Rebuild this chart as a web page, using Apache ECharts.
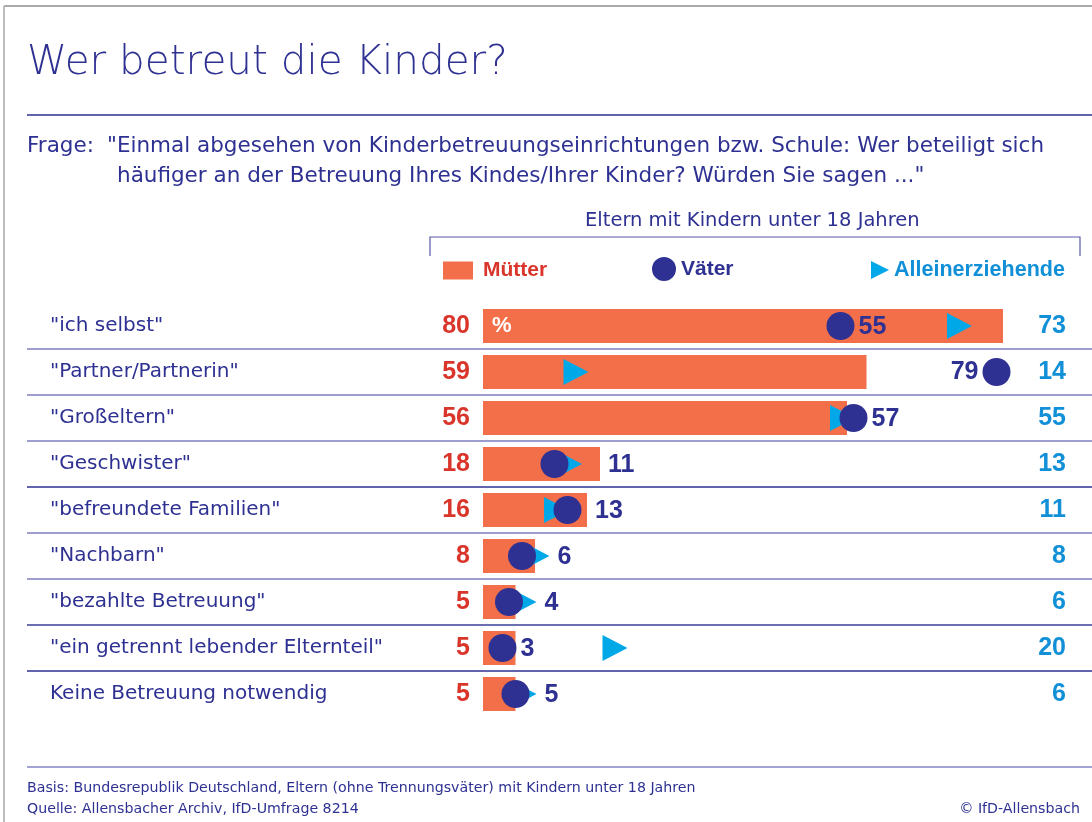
<!DOCTYPE html>
<html>
<head>
<meta charset="utf-8">
<script src="https://cdn.jsdelivr.net/npm/echarts@6/dist/echarts.min.js"></script>
<style>
  html, body { margin: 0; padding: 0; background: #fff; }
  #chart { width: 1092px; height: 822px; }
</style>
</head>
<body>
<div id="chart"></div>
<script>
// Daten
const categories = [
    '"ich selbst"',
    '"Partner/Partnerin"',
    '"Großeltern"',
    '"Geschwister"',
    '"befreundete Familien"',
    '"Nachbarn"',
    '"bezahlte Betreuung"',
    '"ein getrennt lebender Elternteil"',
    'Keine Betreuung notwendig'
]
const muetter = [80, 59, 56, 18, 16, 8, 5, 5, 5]
const vaeter = [55, 79, 57, 11, 13, 6, 4, 3, 5]
const allein = [73, 14, 55, 13, 11, 8, 6, 20, 6]

const NAVY = '#2e3192'
const ORANGE = '#f26f4a'
const RED = '#d9352a'
const CYAN = '#00a8e8'
const BLUE = '#1190d8'
const TRI = 'path://M0,0L10,5L0,10Z'
const TEXT_FONT = '"DejaVu Sans", sans-serif'
const NUM_FONT = '"Liberation Sans Narrow", "Liberation Sans", sans-serif'

// 0 % liegt bei x=483, 6.5 px pro Prozentpunkt
const GRID_LEFT = 27
const ZERO_X = 483
const PX = 6.5
const DOT = 28      // Kreisdurchmesser
const TRI_W = 25

// Väter-Zahl rechts neben das äußerste Element der Gruppe schieben (wie im Original)
function vaeterShift(i) {
    const v = vaeter[i] * PX
    const dotRight = v + DOT / 2
    let edge = dotRight
    const barEnd = muetter[i] * PX
    if (barEnd > edge && barEnd - dotRight < 35) edge = barEnd
    const triTip = allein[i] * PX + TRI_W / 2 + 2
    if (triTip > edge && triTip - dotRight < 35) edge = triTip
    const gap = edge > dotRight ? 8 : 4
    return edge - dotRight + gap - 4
}

const chart = echarts.init(document.getElementById('chart'))
chart.setOption({
    animation: false,
    textStyle: { fontFamily: TEXT_FONT },
    title: [
        {
            text: 'Wer betreut die Kinder?', left: 27, top: 43, padding: 0,
            textStyle: { fontSize: 40.5, fontWeight: 200, color: NAVY, fontFamily: TEXT_FONT }
        },
        {
            text: 'Frage:', left: 27, top: 135, padding: 0,
            textStyle: { fontSize: 21.5, fontWeight: 'normal', color: NAVY, fontFamily: TEXT_FONT }
        },
        {
            text: '"Einmal abgesehen von Kinderbetreuungseinrichtungen bzw. Schule: Wer beteiligt sich',
            left: 107, top: 135, padding: 0,
            textStyle: { fontSize: 21.5, fontWeight: 'normal', color: NAVY, fontFamily: TEXT_FONT }
        },
        {
            text: 'häufiger an der Betreuung Ihres Kindes/Ihrer Kinder? Würden Sie sagen ..."',
            left: 117, top: 165, padding: 0,
            textStyle: { fontSize: 21.5, fontWeight: 'normal', color: NAVY, fontFamily: TEXT_FONT }
        },
        {
            text: 'Eltern mit Kindern unter 18 Jahren', left: 585, top: 211, padding: 0,
            textStyle: { fontSize: 19.5, fontWeight: 'normal', color: NAVY, fontFamily: TEXT_FONT }
        },
        {
            text: 'Basis: Bundesrepublik Deutschland, Eltern (ohne Trennungsväter) mit Kindern unter 18 Jahren',
            left: 27, top: 781, padding: 0,
            textStyle: { fontSize: 14.2, fontWeight: 'normal', color: NAVY, fontFamily: TEXT_FONT }
        },
        {
            text: 'Quelle: Allensbacher Archiv, IfD-Umfrage 8214', left: 27, top: 802, padding: 0,
            textStyle: { fontSize: 14.2, fontWeight: 'normal', color: NAVY, fontFamily: TEXT_FONT }
        },
        {
            text: '© IfD-Allensbach', right: 12, top: 802, padding: 0,
            textStyle: { fontSize: 14.2, fontWeight: 'normal', color: NAVY, fontFamily: TEXT_FONT }
        }
    ],
    graphic: [
        // Rahmen
        { type: 'line', shape: { x1: 4, y1: 6, x2: 1092, y2: 6 }, style: { stroke: '#8c8c8c', lineWidth: 1.5 } },
        { type: 'line', shape: { x1: 4, y1: 6, x2: 4, y2: 822 }, style: { stroke: '#bdbdbd', lineWidth: 2 } },
        // Linie unter dem Titel
        { type: 'line', shape: { x1: 27, y1: 115, x2: 1092, y2: 115 }, style: { stroke: NAVY, lineWidth: 1.5 } },
        // Klammer über der Legende
        {
            type: 'polyline',
            shape: { points: [[430, 256], [430, 237], [1080, 237], [1080, 256]] },
            style: { stroke: '#5a5aa8', lineWidth: 1.2, fill: null }
        },
        // Linie über der Fußnote
        { type: 'line', shape: { x1: 27, y1: 767, x2: 1092, y2: 767 }, style: { stroke: '#8585c4', lineWidth: 1.5 } }
    ],
    legend: [
        {
            left: 443, top: 260, padding: 0, selectedMode: false,
            icon: 'rect', itemWidth: 30, itemHeight: 18,
            data: [{ name: 'Mütter', textStyle: { color: RED } }],
            textStyle: { fontSize: 21, fontWeight: 'bold', fontFamily: '"Liberation Sans", sans-serif', padding: [0, 0, 0, 5] }
        },
        {
            left: 652, top: 257, padding: 0, selectedMode: false,
            icon: 'circle', itemWidth: 24, itemHeight: 24,
            data: [{ name: 'Väter', textStyle: { color: NAVY } }],
            textStyle: { fontSize: 21, fontWeight: 'bold', fontFamily: '"Liberation Sans", sans-serif' }
        },
        {
            left: 871, top: 259, padding: 0, selectedMode: false,
            icon: TRI, itemWidth: 18, itemHeight: 20,
            data: [{ name: 'Alleinerziehende', textStyle: { color: BLUE } }],
            textStyle: { fontSize: 21.5, fontWeight: 'bold', fontFamily: '"Liberation Sans", sans-serif' }
        }
    ],
    grid: {
        left: GRID_LEFT,
        right: 0,
        top: 303,
        height: 414
    },
    xAxis: {
        type: 'value',
        min: -(ZERO_X - GRID_LEFT) / PX,
        max: (1092 - ZERO_X) / PX,
        show: false
    },
    yAxis: [
        {
            type: 'category',
            data: categories,
            inverse: true,
            axisLine: { show: false },
            axisTick: { show: false },
            axisLabel: {
                inside: true,
                interval: 0,
                margin: 23,
                color: NAVY,
                fontSize: 20,
                padding: [6, 0, 0, 0],
                fontFamily: TEXT_FONT
            },
            splitLine: {
                show: true,
                interval: 0,
                lineStyle: {
                    width: 1.5,
                    color: ['transparent', '#7c7cc0', '#7c7cc0', '#7c7cc0', NAVY,
                        '#7c7cc0', '#7c7cc0', '#3b3f99', NAVY, 'transparent']
                }
            }
        },
        {
            type: 'category',
            position: 'right',
            data: categories,
            inverse: true,
            axisLine: { show: false },
            axisTick: { show: false },
            axisLabel: {
                inside: true,
                interval: 0,
                margin: 26,
                formatter: (val, idx) => allein[idx],
                color: BLUE,
                fontWeight: 'bold',
                fontSize: 25,
                fontFamily: NUM_FONT
            },
            splitLine: { show: false }
        }
    ],
    series: [
        {
            name: 'Mütter',
            type: 'bar',
            data: muetter,
            barWidth: 34,
            barGap: '-100%',
            itemStyle: { color: ORANGE },
            label: {
                show: true,
                position: 'left',
                distance: 13,
                color: RED,
                fontWeight: 'bold',
                fontSize: 25,
                fontFamily: NUM_FONT
            }
        },
        {
            // nur für das "%" im ersten Balken
            type: 'bar',
            data: muetter.map((v, i) => i === 0 ? v : '-'),
            barWidth: 34,
            barGap: '-100%',
            silent: true,
            itemStyle: { color: 'transparent' },
            label: {
                show: true,
                position: 'insideLeft',
                distance: 9,
                formatter: '%',
                color: '#fff',
                fontWeight: 'bold',
                fontSize: 22,
                fontFamily: '"Liberation Sans", sans-serif'
            }
        },
        {
            name: 'Alleinerziehende',
            type: 'scatter',
            data: allein.map((v, i) => [v, categories[i]]),
            symbol: TRI,
            symbolSize: [TRI_W, 26],
            symbolOffset: [2, 0],
            itemStyle: { color: CYAN, opacity: 1 }
        },
        {
            name: 'Väter',
            type: 'scatter',
            data: vaeter.map((v, i) => i === 1
                ? { value: [v, categories[i]], label: { position: 'left' } }
                : { value: [v, categories[i]], label: { offset: [vaeterShift(i), 1] } }),
            symbol: 'circle',
            symbolSize: DOT,
            itemStyle: { color: NAVY, opacity: 1 },
            label: {
                show: true,
                position: 'right',
                distance: 4,
                formatter: p => p.value[0],
                color: NAVY,
                fontWeight: 'bold',
                fontSize: 25,
                fontFamily: NUM_FONT
            }
        }
    ]
})
window.addEventListener('resize', chart.resize)
</script>
</body>
</html>
